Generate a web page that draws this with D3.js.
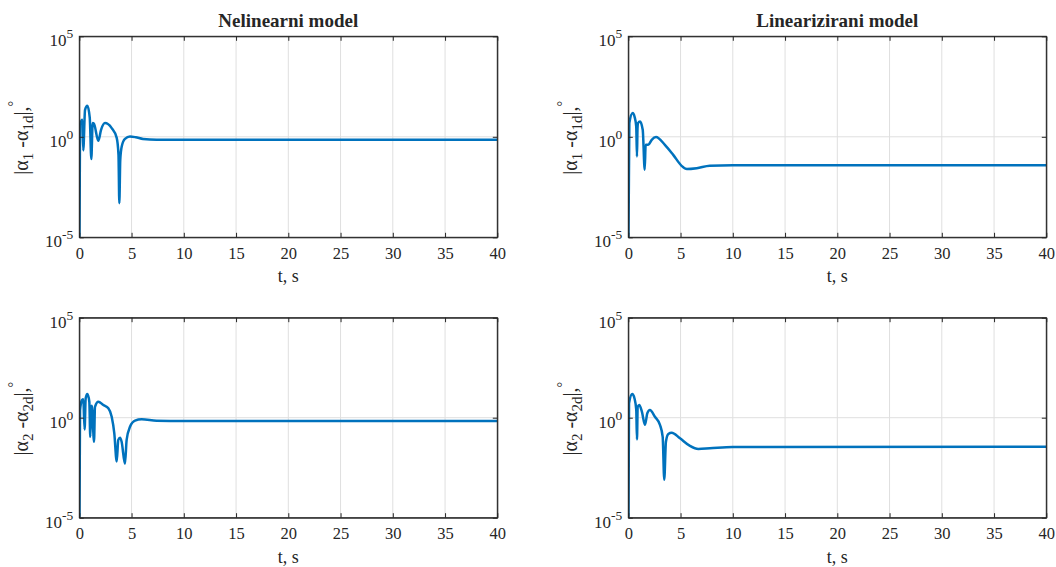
<!DOCTYPE html>
<html>
<head>
<meta charset="utf-8">
<script src="https://cdn.jsdelivr.net/npm/d3@7"></script>
<style>
  html, body { margin: 0; padding: 0; background: #fff; }
  svg { display: block; }
  svg text { font-family: "Liberation Serif", "Times New Roman", serif; fill: #262626; }
</style>
</head>
<body>
<svg id="chart" width="1056" height="567"></svg>
<script>
// ---------- data ----------
const xTicks = [0, 5, 10, 15, 20, 25, 30, 35, 40];
const yTickExps = [-5, 0, 5];
const titles = ["Nelinearni model", "Linearizirani model"];

// alpha1, nonlinear model
const t11 = [0, 0.02, 0.07, 0.29, 0.38, 0.55, 0.77, 1.0, 1.15, 1.28, 1.4, 1.82, 2.08, 2.46, 3.1, 3.58, 3.75, 3.83, 3.92, 4.06, 4.37, 4.85, 5.4, 6.1, 7.4, 10, 40];
const e11 = [1e-5, 1.6e-5, 4.0, 7.1, 0.21, 22, 35, 8.9, 0.079, 4.8, 4.5, 0.63, 2.2, 4.8, 2.7, 0.89, 0.13, 5.0e-4, 0.071, 0.33, 0.78, 1.03, 0.95, 0.78, 0.71, 0.71, 0.71];

// alpha1, linearized model
const t12 = [0, 0.02, 0.1, 0.42, 0.6, 0.76, 0.83, 0.88, 0.93, 1.12, 1.38, 1.57, 1.66, 1.91, 2.24, 2.65, 3.5, 4.3, 5.1, 5.6, 6.55, 7.8, 10, 40];
const e12 = [1e-5, 1.6e-5, 4.8, 15.1, 10, 3.2, 0.105, 2.5, 4.8, 5.75, 2.24, 0.023, 0.4, 0.4, 0.71, 0.97, 0.4, 0.126, 0.036, 0.025, 0.0275, 0.036, 0.038, 0.038];

// alpha2, nonlinear model
const t21 = [0, 0.02, 0.07, 0.26, 0.38, 0.51, 0.61, 0.77, 0.96, 1.05, 1.15, 1.2, 1.41, 1.5, 1.82, 2.3, 2.78, 3.1, 3.35, 3.58, 3.73, 3.9, 4.05, 4.37, 4.53, 4.85, 5.33, 5.97, 7.4, 10, 40];
const e21 = [1e-5, 1.6e-5, 2.4, 7.6, 8.3, 0.26, 9.3, 15.1, 6.3, 0.11, 3.5, 4.0, 0.063, 3.5, 6.3, 4.3, 2.95, 1.12, 0.166, 0.0065, 0.078, 0.1, 0.063, 0.005, 0.078, 0.35, 0.71, 0.83, 0.71, 0.68, 0.68];

// alpha2, linearized model
const t22 = [0, 0.02, 0.07, 0.38, 0.6, 0.76, 0.83, 0.9, 1.05, 1.3, 1.6, 1.82, 2.07, 2.55, 3.03, 3.29, 3.44, 3.6, 3.83, 4.15, 4.95, 5.9, 6.7, 7.8, 10, 40];
const e22 = [1e-5, 1.6e-5, 5.2, 15.1, 8.9, 2.5, 0.083, 3.5, 4.3, 2.0, 0.44, 1.66, 2.4, 1.12, 0.44, 0.11, 7.9e-4, 0.063, 0.155, 0.178, 0.093, 0.039, 0.0275, 0.0295, 0.034, 0.035];

// ---------- layout ----------
const FONT = '"Liberation Serif", "Times New Roman", serif';
const svg = d3.select("#chart");
const W = 418;
const cols = [79.3, 628.3];
const rows = [{ top: 36.3, h: 201 }, { top: 317.7, h: 200 }];
const panels = [
  { t: t11, e: e11, c: 0, r: 0, idx: "1" },
  { t: t12, e: e12, c: 1, r: 0, idx: "1" },
  { t: t21, e: e21, c: 0, r: 1, idx: "2" },
  { t: t22, e: e22, c: 1, r: 1, idx: "2" }
];
const axisColor = "#262626";
const gridColor = "#dfdfdf";
const lineColor = "#0072bd";
const tickLen = 4.5;

panels.forEach((p, i) => {
  const left = cols[p.c], top = rows[p.r].top, H = rows[p.r].h;
  const g = svg.append("g").attr("transform", `translate(${left},${top})`);
  const x = d3.scaleLinear().domain([0, 40]).range([0, W]);
  const y = d3.scaleLog().domain([1e-5, 1e5]).range([H, 0]);

  // grid
  g.selectAll(".vg").data(xTicks.slice(1, -1)).join("line")
    .attr("x1", d => x(d)).attr("x2", d => x(d)).attr("y1", 0).attr("y2", H)
    .attr("stroke", gridColor).attr("stroke-width", 1);
  g.selectAll(".hg").data(yTickExps.slice(1, -1)).join("line")
    .attr("x1", 0).attr("x2", W).attr("y1", d => y(Math.pow(10, d))).attr("y2", d => y(Math.pow(10, d)))
    .attr("stroke", gridColor).attr("stroke-width", 1);

  // data line
  const clipId = "clip" + i;
  g.append("clipPath").attr("id", clipId).append("rect").attr("x", 0).attr("y", 0).attr("width", W).attr("height", H);
  const line = d3.line().x(d => x(d[0])).y(d => y(d[1])).curve(d3.curveMonotoneX);
  g.append("path").datum(p.t.map((tv, k) => [tv, p.e[k]]))
    .attr("d", line).attr("fill", "none").attr("stroke", lineColor)
    .attr("stroke-width", 2.5).attr("stroke-linejoin", "round")
    .attr("clip-path", `url(#${clipId})`);

  // axes with ticks on all sides (box)
  const xb = d3.axisBottom(x).tickValues(xTicks).tickSizeInner(-tickLen).tickSizeOuter(0).tickPadding(9);
  const xt = d3.axisTop(x).tickValues(xTicks).tickSizeInner(-tickLen).tickSizeOuter(0).tickFormat("");
  const yl = d3.axisLeft(y).tickValues(yTickExps.map(e => Math.pow(10, e))).tickSizeInner(-tickLen).tickSizeOuter(0).tickFormat("");
  const yr = d3.axisRight(y).tickValues(yTickExps.map(e => Math.pow(10, e))).tickSizeInner(-tickLen).tickSizeOuter(0).tickFormat("");

  const gxb = g.append("g").attr("transform", `translate(0,${H})`).call(xb);
  gxb.attr("font-family", FONT).attr("font-size", 16.5);
  gxb.selectAll("text").attr("fill", axisColor).attr("dy", "0.71em").attr("y", 10);
  g.append("g").call(xt).selectAll("text").remove();
  g.append("g").call(yl);
  g.append("g").attr("transform", `translate(${W},0)`).call(yr);
  g.selectAll(".domain").attr("stroke", axisColor).attr("stroke-width", 1);
  g.selectAll(".tick line").attr("stroke", axisColor).attr("stroke-width", 1);
  // box
  g.append("rect").attr("x", 0).attr("y", 0).attr("width", W).attr("height", H)
    .attr("fill", "none").attr("stroke", axisColor).attr("stroke-width", 1);

  // y tick labels 10^n
  yTickExps.forEach(ex => {
    const ty = y(Math.pow(10, ex));
    const tx = g.append("text").attr("x", -6).attr("y", ty + 10).attr("text-anchor", "end")
      .attr("font-size", 17).attr("font-family", FONT);
    tx.append("tspan").text("10");
    tx.append("tspan").attr("font-size", 13.5).attr("dy", -8).text(String(ex));
  });

  // x label
  g.append("text").attr("x", W / 2).attr("y", H + 45).attr("text-anchor", "middle")
    .attr("font-size", 18).attr("font-family", FONT).text("t, s");

  // y label
  const yl2 = g.append("text").attr("transform", `translate(-51.3,${H / 2 + 1}) rotate(-90)`)
    .attr("text-anchor", "middle").attr("font-size", 20).attr("font-family", FONT);
  yl2.append("tspan").text("|α");
  yl2.append("tspan").attr("font-size", 15).attr("dy", 5).text(p.idx);
  yl2.append("tspan").attr("dy", -5).text(" -α");
  yl2.append("tspan").attr("font-size", 15).attr("dy", 5).text(p.idx + "d");
  yl2.append("tspan").attr("dy", -5).text("|,");
  yl2.append("tspan").attr("font-size", 14).attr("dy", -10).text("°");

  // title
  if (p.r === 0) {
    g.append("text").attr("x", W / 2).attr("y", -9).attr("text-anchor", "middle")
      .attr("font-size", 19).attr("font-weight", "bold").attr("font-family", FONT).text(titles[p.c]);
  }
});
</script>
</body>
</html>
